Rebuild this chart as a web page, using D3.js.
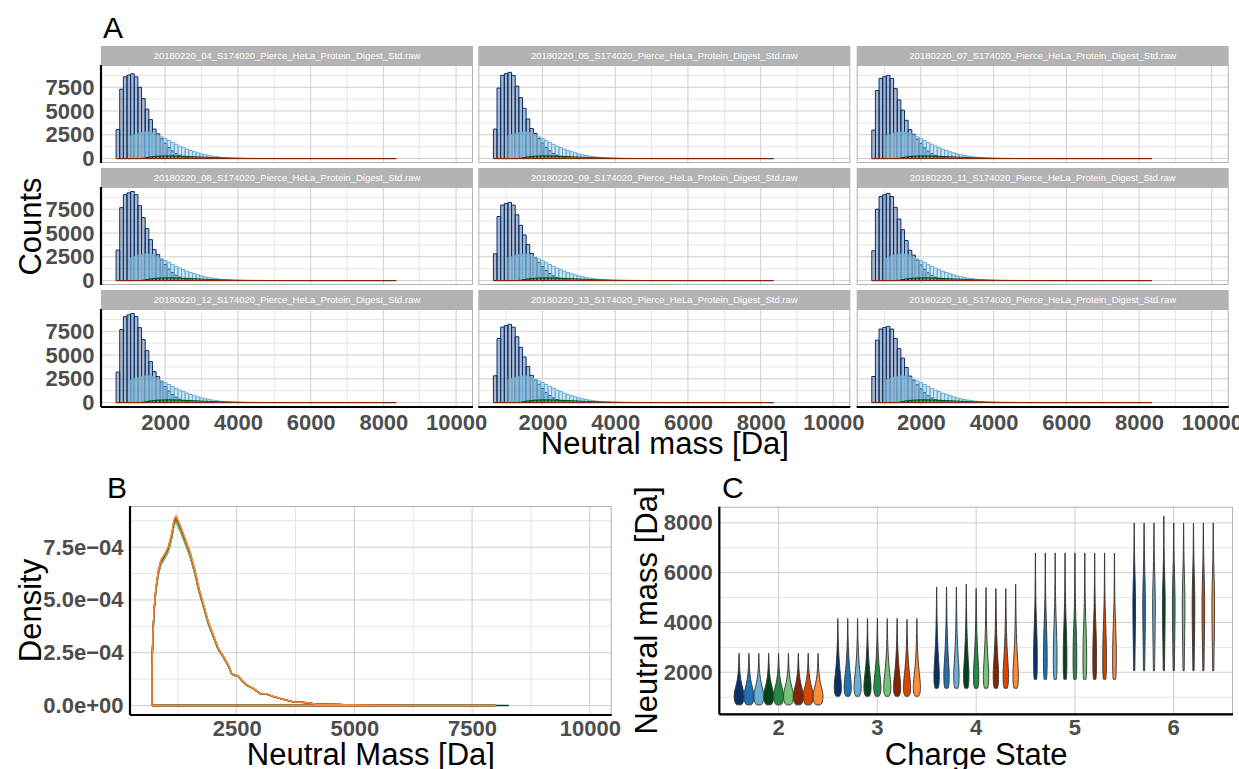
<!DOCTYPE html>
<html>
<head>
<meta charset="utf-8">
<script src="https://cdn.jsdelivr.net/npm/d3@7"></script>
<style>
    body { margin: 0; background: #fff; }
    svg { font-family: "Liberation Sans", Arial, Helvetica, sans-serif; }
    .tick text { font-weight: bold; fill: #4D4D4D; font-size: 22px; font-family: "Liberation Sans", Arial, sans-serif; }
    .ax-title { font-size: 31px; fill: #000; }
    .tag { font-size: 30px; fill: #000; }
</style>
</head>
<body>
<svg id="chart" width="1239" height="769"></svg>
<script>
// ---------- data ----------
const files = ['04', '05', '07', '08', '09', '11', '12', '13', '16']
    .map(n => `20180220_${n}_S174020_Pierce_HeLa_Protein_Digest_Std.raw`);
const fileColors = ['#08306B', '#2171B5', '#6BAED6', '#00441B', '#238B45', '#74C476', '#7F2704', '#D94801', '#FD8D3C'];
const charges = [2, 3, 4, 5, 6];
const chargeColors = ['#08306B', '#6BAED6', '#00441B', '#74C476', '#7F2704'];

// histogram bins (Da)
const binStart = 650, binWidth = 100, binEnd = 8350;
const massLimits = [700, 10000];

// counts per 100 Da bin (file 04 shape); each list starts at its first bin
const c2Start = 650;
const c2Counts = [3050, 7300, 8600, 8780, 8920, 8600, 7500, 6300, 5200, 4100, 3100, 2600, 2080, 1600, 1150, 800, 530, 340, 200, 110, 50];
const c3Start = 1050;
const c3Counts = [2400, 2550, 2680, 2760, 2800, 2760, 2620, 2450, 2280, 2100, 1900, 1700, 1500, 1320, 1150, 990, 850, 720, 600, 490, 400, 320, 255, 200, 150, 110, 80, 55, 35, 20, 10, 4];
const c4Start = 1350;
const c4Counts = [30, 100, 170, 220, 250, 270, 280, 282, 278, 268, 255, 240, 222, 204, 186, 168, 150, 133, 117, 102, 88, 76, 65, 55, 46, 38, 32, 26, 21, 17, 14, 11, 9, 7, 6, 5, 4, 3, 2, 2, 1];
const c5Start = 1650;
const c5Counts = [3, 8, 14, 20, 26, 30, 33, 35, 36, 36, 35, 34, 32, 30, 28, 26, 24, 22, 20, 18, 16, 14, 12, 11, 10, 9, 8, 7, 6, 5, 5, 4, 4, 3, 3, 3, 2, 2, 2, 2, 1, 1, 1, 1, 1, 1, 1, 1, 1, 1, 1, 1];
const c6Start = 2050;
const c6Counts = [2, 4, 6, 8, 9, 10, 11, 12, 12, 12, 12, 11, 11, 10, 10, 9, 9, 8, 8, 7, 7, 6, 6, 5, 5, 4, 4, 4, 3, 3, 3, 3, 2, 2, 2, 2, 2, 2, 1, 1, 1, 1, 1, 1, 1, 1, 1, 1, 1, 1, 1, 1, 1, 1, 1, 1, 1, 1, 1, 1, 1, 1, 1];
// tallest charge-2 bar per file
const c2Peak = [8920, 9070, 8750, 9375, 8230, 9170, 9375, 8230, 8020];

// density curve (units of 1e-4)
const densMass = [700, 702, 716, 744, 787, 837, 893, 978, 1049, 1120, 1169, 1212, 1297, 1403, 1509, 1615, 1700, 1791, 1898, 2004, 2110, 2216, 2323, 2394, 2465, 2535, 2606, 2712, 2854, 2995, 3137, 3279, 3456, 3703, 3986, 4199, 4553, 5260, 5968];
const densValue = [0, 1.85, 2.96, 4.54, 5.64, 6.43, 6.91, 7.22, 7.54, 8.17, 8.81, 9.0, 8.57, 7.94, 7.30, 6.43, 5.56, 4.85, 3.98, 3.35, 2.72, 2.36, 1.93, 1.53, 1.45, 1.42, 1.22, 0.98, 0.82, 0.58, 0.55, 0.43, 0.32, 0.17, 0.14, 0.06, 0.05, 0.02, 0];
const densPeak = [8.85, 8.9, 8.8, 8.75, 8.7, 8.7, 8.95, 8.9, 9.0];
const densTicks = [0, 2.5e-4, 5e-4, 7.5e-4];
const densTickLabels = ['0.0e+00', '2.5e\u221204', '5.0e\u221204', '7.5e\u221204'];

// violin profiles [mass, relative density]
const vio2 = [[692, .45], [750, .75], [850, .92], [950, .98], [1050, 1], [1150, .97], [1250, .88], [1400, .70], [1550, .50], [1700, .36], [1850, .25], [2000, .17], [2200, .10], [2400, .06], [2600, .04], [2760, .02]];
const vio3 = [[1040, .35], [1100, .55], [1200, .68], [1350, .73], [1500, .72], [1700, .64], [1900, .53], [2100, .42], [2400, .29], [2700, .20], [3000, .13], [3300, .08], [3600, .05], [3900, .03], [4160, .02]];
const vio4 = [[1360, .30], [1450, .45], [1600, .52], [1800, .55], [2000, .54], [2200, .50], [2500, .40], [2800, .31], [3100, .24], [3400, .18], [3800, .12], [4200, .08], [4600, .05], [5000, .03], [5424, .02]];
const vio5 = [[1720, .25], [1900, .33], [2200, .37], [2600, .38], [3000, .36], [3400, .32], [3800, .25], [4200, .18], [4600, .12], [5000, .08], [5500, .05], [6000, .03], [6790, .02]];
const vio6 = [[2064, .12], [2500, .15], [3000, .18], [3500, .22], [4000, .25], [4500, .27], [5000, .27], [5500, .22], [6000, .15], [6500, .08], [7000, .05], [7500, .03], [7990, .02]];
// violin top per charge, per file
const vioTop2 = [2760, 2760, 2760, 2760, 2760, 2760, 2760, 2760, 2760];
const vioTop3 = [4160, 4160, 4160, 4160, 4160, 4160, 4160, 4120, 4160];
const vioTop4 = [5424, 5424, 5424, 5532, 5360, 5400, 5360, 5360, 5532];
const vioTop5 = [6790, 6790, 6790, 6790, 6790, 6790, 6790, 6790, 6790];
const vioTop6 = [7990, 7990, 7990, 8270, 7990, 7990, 7990, 7990, 7990];

// ---------- helpers ----------
const svg = d3.select('#chart');
const MAJOR = '#CFCFCF', MINOR = '#E6E6E6', BORDER = '#B3B3B3';

function expand([a, b]) {
    const d = (b - a) * 0.05;
    return [a - d, b + d];
}

function grid(g, x, y, w, h, xMaj, xMin, yMaj, yMin) {
    const inX = v => v >= x.domain()[0] && v <= x.domain()[1];
    const inY = v => v >= y.domain()[0] && v <= y.domain()[1];
    xMin.filter(inX).forEach(v => g.append('line').attr('x1', x(v)).attr('x2', x(v)).attr('y1', 0).attr('y2', h).attr('stroke', MINOR));
    yMin.filter(inY).forEach(v => g.append('line').attr('y1', y(v)).attr('y2', y(v)).attr('x1', 0).attr('x2', w).attr('stroke', MINOR));
    xMaj.filter(inX).forEach(v => g.append('line').attr('x1', x(v)).attr('x2', x(v)).attr('y1', 0).attr('y2', h).attr('stroke', MAJOR));
    yMaj.filter(inY).forEach(v => g.append('line').attr('y1', y(v)).attr('y2', y(v)).attr('x1', 0).attr('x2', w).attr('stroke', MAJOR));
}

function border(g, w, h) {
    g.append('rect').attr('x', 0.5).attr('y', 0.5).attr('width', w - 1).attr('height', h - 1)
        .attr('fill', 'none').attr('stroke', BORDER);
}

function axisLeft(g, scale, ticks, fmt, h) {
    const a = g.append('g').call(d3.axisLeft(scale).tickValues(ticks).tickFormat(fmt).tickSize(0).tickPadding(6.5));
    a.select('.domain').remove();
    g.append('line').attr('x1', 0).attr('x2', 0).attr('y1', 0).attr('y2', h).attr('stroke', '#000').attr('stroke-width', 2.2);
}

function axisBottom(g, scale, ticks, w, h, pad) {
    const ax = d3.axisBottom(scale).tickSize(0).tickPadding(pad);
    if (ticks) ax.tickValues(ticks).tickFormat(d3.format('d'));
    const a = g.append('g').attr('transform', `translate(0,${h})`).call(ax);
    a.select('.domain').remove();
    g.append('line').attr('x1', 0).attr('x2', w).attr('y1', h).attr('y2', h).attr('stroke', '#000').attr('stroke-width', 2.2);
}

function title(text, x, y, rotate) {
    svg.append('text').attr('class', 'ax-title').attr('text-anchor', 'middle')
        .attr('transform', rotate ? `translate(${x},${y}) rotate(-90)` : `translate(${x},${y})`)
        .text(text);
}

// ---------- panel A: histograms ----------
const aCols = [101, 478.3, 856.7], aW = 372;
const aStripTop = [46, 168, 290], stripH = 19, aH = 98;
const massDomain = expand(massLimits);
const xA = d3.scaleLinear().domain(massDomain).range([0, aW]);
const maxCount = d3.max([...c2Peak, d3.max(c3Counts)]);
const yA = d3.scaleLinear().domain(expand([0, maxCount])).range([aH, 0]);

const binEdges = d3.range(binStart, binEnd, binWidth);
const chargeLists = [[c2Start, c2Counts], [c3Start, c3Counts], [c4Start, c4Counts], [c5Start, c5Counts], [c6Start, c6Counts]];

files.forEach((file, f) => {
    const row = Math.floor(f / 3), col = f % 3;
    const px = aCols[col], st = aStripTop[row];
    // strip
    svg.append('rect').attr('x', px).attr('y', st).attr('width', aW).attr('height', stripH).attr('fill', '#B3B3B3');
    svg.append('text').attr('x', px + aW / 2).attr('y', st + 13.2).attr('text-anchor', 'middle')
        .attr('font-size', 9.5).attr('fill', '#fff').text(file);

    const g = svg.append('g').attr('transform', `translate(${px},${st + stripH})`);
    grid(g, xA, yA, aW, aH, [2000, 4000, 6000, 8000, 10000], [1000, 3000, 5000, 7000, 9000],
        [0, 2500, 5000, 7500], [1250, 3750, 6250, 8750]);

    chargeLists.forEach(([start, counts], ci) => {
        const k = ci === 0 ? c2Peak[f] / d3.max(c2Counts) : 1;
        binEdges.forEach(edge => {
            const idx = Math.round((edge - start) / binWidth);
            const c = idx >= 0 && idx < counts.length ? counts[idx] * k : 0;
            const x0 = xA(edge), x1 = xA(edge + binWidth), y0 = yA(0), y1 = yA(c);
            g.append('path')
                .attr('d', `M${x0},${y0}V${y1}H${x1}V${y0}Z`)
                .attr('fill', chargeColors[ci]).attr('fill-opacity', 0.33)
                .attr('stroke', chargeColors[ci]).attr('stroke-width', 1);
        });
    });

    border(g, aW, aH);
    if (col === 0) axisLeft(g, yA, [0, 2500, 5000, 7500], d3.format('d'), aH);
    if (row === 2) axisBottom(g, xA, [2000, 4000, 6000, 8000, 10000], aW, aH, 7.5);
});

svg.append('text').attr('class', 'tag').attr('x', 103).attr('y', 38).text('A');
title('Neutral mass [Da]', aCols[0] + (aCols[2] + aW - aCols[0]) / 2, 454, false);
title('Counts', 41, (aStripTop[0] + aStripTop[2] + stripH + aH) / 2, true);

// ---------- panel B: density ----------
const bL = 130, bT = 506, bW = 481.7, bH = 209;
const xB = d3.scaleLinear().domain(massDomain).range([0, bW]);
const yB = d3.scaleLinear().domain(expand([0, d3.max(densPeak) * 1e-4])).range([bH, 0]);
const gB = svg.append('g').attr('transform', `translate(${bL},${bT})`);
grid(gB, xB, yB, bW, bH, [2500, 5000, 7500, 10000], [1250, 3750, 6250, 8750],
    densTicks, [1.25e-4, 3.75e-4, 6.25e-4, 8.75e-4]);

const densLine = d3.line().x(d => xB(d[0])).y(d => yB(d[1]));
files.forEach((file, f) => {
    const k = densPeak[f] / d3.max(densValue);
    const maxMass = vioTop6[f];
    const pts = densMass.map((m, i) => [m, densValue[i] * k * 1e-4]);
    pts.push([maxMass, 0], [densMass[0], 0]);
    gB.append('path').attr('d', densLine(pts))
        .attr('fill', 'none').attr('stroke', fileColors[f]).attr('stroke-width', 1.3)
        .attr('stroke-linejoin', 'round');
});
border(gB, bW, bH);
axisLeft(gB, yB, densTicks, (d, i) => densTickLabels[i], bH);
axisBottom(gB, xB, [2500, 5000, 7500, 10000], bW, bH, 5);

svg.append('text').attr('class', 'tag').attr('x', 107).attr('y', 498).text('B');
title('Neutral Mass [Da]', bL + bW / 2, 765, false);
title('Density', 41, bT + bH / 2, true);

// ---------- panel C: violins ----------
const cL = 719.3, cT = 506.7, cW = 513.7, cH = 207.6;
const xC = d3.scaleBand().domain(charges).range([0, cW]).paddingInner(0).paddingOuter(0.1);
const vioProfiles = [vio2, vio3, vio4, vio5, vio6];
const vioTops = [vioTop2, vioTop3, vioTop4, vioTop5, vioTop6];
const yC = d3.scaleLinear()
    .domain(expand([d3.min(vioProfiles, p => p[0][0]), d3.max(vioTops, t => d3.max(t))]))
    .range([cH, 0]);
const gC = svg.append('g').attr('transform', `translate(${cL},${cT})`);
grid(gC, { domain: () => [-1e9, 1e9] }, yC, cW, cH, [], [], [2000, 4000, 6000, 8000], [1000, 3000, 5000, 7000]);
charges.forEach(c => {
    const xc = xC(c) + xC.bandwidth() / 2;
    gC.append('line').attr('x1', xc).attr('x2', xc).attr('y1', 0).attr('y2', cH).attr('stroke', MAJOR);
});

const slot = xC.bandwidth() * 0.9 / files.length;
charges.forEach((c, ci) => {
    const center = xC(c) + xC.bandwidth() / 2;
    files.forEach((file, f) => {
        const cx = center + (f - (files.length - 1) / 2) * slot;
        const prof = vioProfiles[ci].slice();
        prof[prof.length - 1] = [vioTops[ci][f], prof[prof.length - 1][1]];
        const area = d3.area().curve(d3.curveBasis)
            .y(d => yC(d[0]))
            .x0(d => cx - d[1] * slot / 2)
            .x1(d => cx + d[1] * slot / 2);
        gC.append('path').attr('d', area(prof))
            .attr('fill', fileColors[f]).attr('stroke', '#333').attr('stroke-width', 0.9);
    });
});
border(gC, cW, cH);
axisLeft(gC, yC, [2000, 4000, 6000, 8000], d3.format('d'), cH);
axisBottom(gC, xC, null, cW, cH, 5.5);

svg.append('text').attr('class', 'tag').attr('x', 722).attr('y', 498).text('C');
title('Neutral mass [Da]', 657, cT + cH / 2, true);
title('Charge State', cL + cW / 2, 765, false);
</script>
</body>
</html>
